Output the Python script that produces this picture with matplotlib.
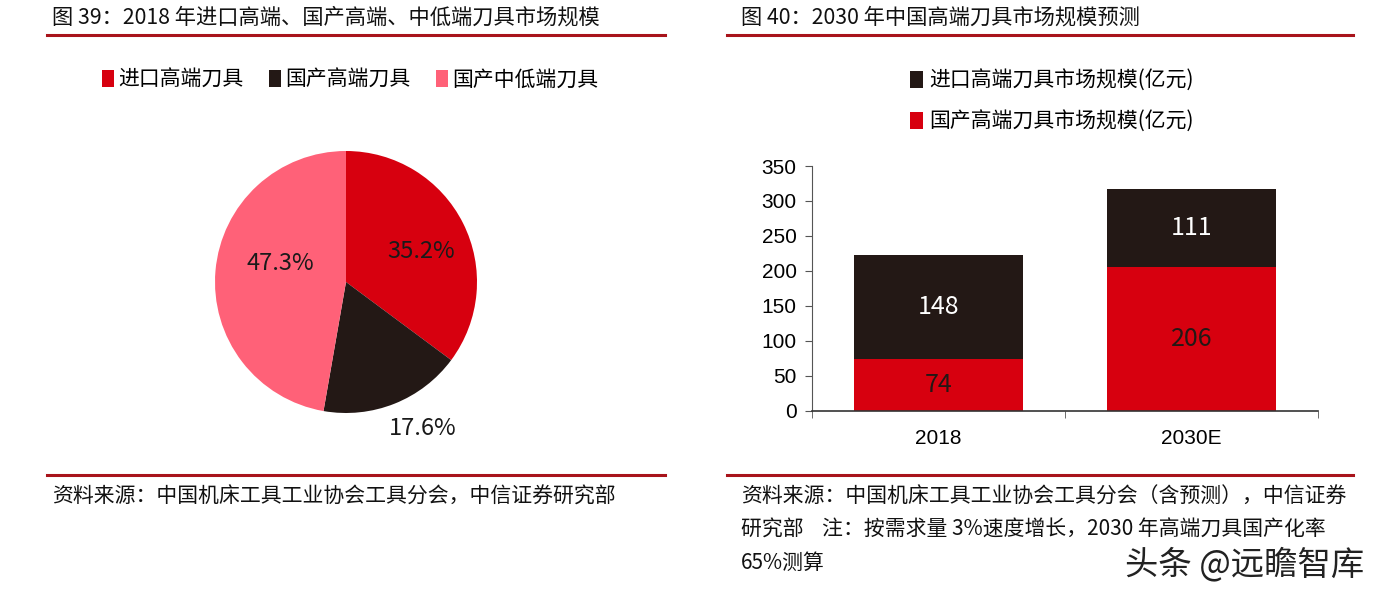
import matplotlib
matplotlib.use("Agg")
import matplotlib.pyplot as plt
from matplotlib.lines import Line2D
import numpy as np

plt.rcParams['font.family'] = ['Noto Sans CJK SC', 'DejaVu Sans']

# 图39 数据
pie_labels = ['进口高端刀具', '国产高端刀具', '国产中低端刀具']
pie_shares = [35.2, 17.6, 47.3]
pie_texts = ['35.2%', '17.6%', '47.3%']

# 图40 数据
years = ['2018', '2030E']
domestic_high = [74, 206]   # 国产高端刀具市场规模(亿元)
import_high = [148, 111]    # 进口高端刀具市场规模(亿元)
bar_legend = ['进口高端刀具市场规模(亿元)', '国产高端刀具市场规模(亿元)']

RED = '#D7000F'
DARK = '#231815'
PINK = '#FF6178'
LINE = '#A8131B'

W, H = 1399, 601
fig = plt.figure(figsize=(W / 100, H / 100), dpi=100)


def fx(x):
    return x / W


def fy(y):
    return 1 - y / H


def hline(x0, x1, y):
    fig.add_artist(Line2D([fx(x0), fx(x1)], [fy(y), fy(y)], color=LINE, lw=2.2))


# ---- 左图：饼图 ----
fig.text(fx(52), fy(18), '图 39：2018 年进口高端、国产高端、中低端刀具市场规模',
         fontsize=15.3, va='center', ha='left', color='#111111')
hline(47, 665, 35)
hline(47, 665, 475)
fig.text(fx(52), fy(497), '资料来源：中国机床工具工业协会工具分会，中信证券研究部',
         fontsize=15, va='center', ha='left', color='#111111')

ax1 = fig.add_axes([fx(346 - 200), fy(282 + 200), 400 / W, 400 / H])
R = 131 / 200
wedges, _ = ax1.pie(pie_shares, colors=[RED, DARK, PINK], startangle=90,
                    counterclock=False, radius=R)
ax1.set_xlim(-1, 1)
ax1.set_ylim(-1, 1)
ax1.set_aspect('equal')
ax1.axis('off')

# 标签位置微调（半径倍数、角度偏移）
lab_r = [0.615, 1.26, 0.52]
lab_da = [-4.6, 6, -11]
for w, t, r, da in zip(wedges, pie_texts, lab_r, lab_da):
    a = np.deg2rad((w.theta1 + w.theta2) / 2 + da)
    ax1.text(r * R * np.cos(a), r * R * np.sin(a), t, ha='center', va='center',
             fontsize=17, color='#1a1a1a')

fig.legend(wedges, pie_labels, loc='center', bbox_to_anchor=(fx(350), fy(80)),
           ncol=3, frameon=False, fontsize=15, handlelength=0.6, handleheight=0.9,
           handletextpad=0.2, columnspacing=1.2)

# ---- 右图：堆积柱状图 ----
fig.text(fx(741), fy(18), '图 40：2030 年中国高端刀具市场规模预测',
         fontsize=15.3, va='center', ha='left', color='#111111')
hline(727, 1353, 35)
hline(727, 1353, 475)
src = ['资料来源：中国机床工具工业协会工具分会（含预测），中信证券',
       '研究部    注：按需求量 3%速度增长，2030 年高端刀具国产化率',
       '65%测算']
for i, s in enumerate(src):
    fig.text(fx(741), fy(497 + 33 * i), s, fontsize=15, va='center', ha='left',
             color='#111111')

ax2 = fig.add_axes([fx(812), fy(410.7), (1318 - 812) / W, (410.7 - 166) / H])
x = np.arange(len(years))
b1 = ax2.bar(x, domestic_high, width=0.67, color=RED)
b2 = ax2.bar(x, import_high, width=0.67, bottom=domestic_high, color=DARK)
ax2.bar_label(b1, label_type='center', fontsize=18, color=DARK, fontweight='light')
ax2.bar_label(b2, label_type='center', fontsize=18, color='white', fontweight='light')

ax2.set_xlim(-0.5, 1.5)
ax2.set_ylim(0, 350)
ax2.set_yticks(range(0, 351, 50))
ax2.set_xticks(x)
ax2.set_xticklabels(years)
ax2.set_xticks([-0.5, 0.5, 1.5], minor=True)
ax2.tick_params(axis='x', which='major', length=0, pad=13)
ax2.tick_params(axis='x', which='minor', length=5, direction='out', color='#555555')
ax2.tick_params(axis='y', length=5, direction='out', color='#555555', pad=6)
for lab in ax2.get_xticklabels() + ax2.get_yticklabels():
    lab.set_fontfamily(['Liberation Sans', 'DejaVu Sans'])
    lab.set_fontsize(15)
for s in ['top', 'right']:
    ax2.spines[s].set_visible(False)
ax2.spines['left'].set_color('#555555')
ax2.spines['bottom'].set_color('#333333')
ax2.spines['bottom'].set_linewidth(1.2)

fig.legend([b2, b1], bar_legend, loc='center', bbox_to_anchor=(fx(1052), fy(101)),
           ncol=1, frameon=False, fontsize=15, handlelength=0.6, handleheight=0.9,
           handletextpad=0.3, labelspacing=0.9)

# 水印
fig.text(fx(1125), fy(565), '头条 @远瞻智库', fontsize=24, va='center', ha='left',
         color='#222222')

fig.savefig('out.png', dpi=100)
